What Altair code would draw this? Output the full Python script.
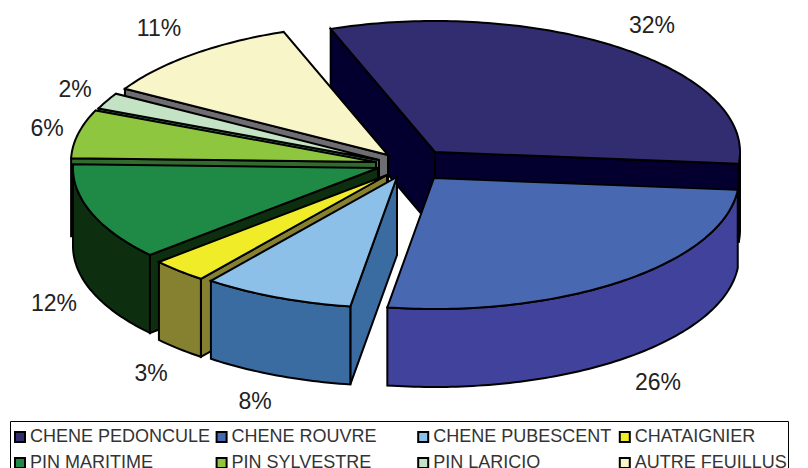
import math
import altair as alt

# Data
names = ["CHENE PEDONCULE", "CHENE ROUVRE", "CHENE PUBESCENT", "CHATAIGNIER",
         "PIN MARITIME", "PIN SYLVESTRE", "PIN LARICIO", "AUTRE FEUILLUS"]
percents = [32, 26, 8, 3, 12, 6, 2, 11]

# Styling
top_colors = ["#322c70", "#4869b1", "#8cc0e8", "#f0ec28", "#1f8a45", "#8fc63f", "#c4e3c4", "#f8f5c8"]
side_colors = ["#03002f", "#41429b", "#3a6ca2", "#858130", "#0e2f0f", "#336b2e", "#3b8a60", "#6e6e72"]

# Layout: exploded centre of each slice, and where its label sits (page pixels)
centre_x = [435, 434, 397, 387, 378, 376, 379, 388]
centre_y = [152, 178, 177, 175, 168, 162, 160, 155]
label_x = [652, 658, 255, 151, 54, 47, 75, 159]
label_y = [26, 383, 402, 374, 304, 129, 90, 29]
draw_order = [0, 7, 6, 5, 4, 3, 2, 1]
RX, RY, DEPTH, START, MARGIN = 305, 131, 78, 110, 8


def pt(cx, cy, t, dy=0):
    a = math.radians(t)
    return [cx + RX * math.cos(a) - MARGIN, cy - RY * math.sin(a) + dy - MARGIN]


def feature(ring, key):
    return {"type": "Feature", "properties": {"key": key},
            "geometry": {"type": "Polygon", "coordinates": [ring + [ring[0]]]}}


bounds = []
angle = START
for p in percents:
    bounds.append((angle, angle - p * 3.6))
    angle -= p * 3.6

features = []
for i in draw_order:
    cx, cy = centre_x[i], centre_y[i]
    t0, t1 = bounds[i]
    side = names[i] + " side"
    apex = [cx - MARGIN, cy - MARGIN]
    apex_low = [apex[0], apex[1] + DEPTH]
    # Cut faces: only those that face the viewer
    for t, visible in ((t0, math.cos(math.radians(t0)) < 0), (t1, math.cos(math.radians(t1)) > 0)):
        if visible:
            features.append(feature([apex, pt(cx, cy, t), pt(cx, cy, t, DEPTH), apex_low], side))
    # Outer rim: only the front half of the ellipse shows
    for k in range(-1, 1):
        lo, hi = max(t1, -180 + 360 * k), min(t0, 360 * k)
        if hi > lo:
            steps = max(2, int(hi - lo))
            ts = [hi - (hi - lo) * s / steps for s in range(steps + 1)]
            ring = [pt(cx, cy, t) for t in ts] + [pt(cx, cy, t, DEPTH) for t in reversed(ts)]
            features.append(feature(ring, side))
    steps = max(2, int(t0 - t1))
    ring = [apex] + [pt(cx, cy, t0 - (t0 - t1) * s / steps) for s in range(steps + 1)]
    features.append(feature(ring, names[i]))

domain = names + [n + " side" for n in names]
colour_range = top_colors + side_colors

shapes = alt.Chart(alt.InlineData(values=features)).mark_geoshape(
    stroke="black", strokeWidth=2
).encode(
    fill=alt.Fill(
        "properties.key:N",
        scale=alt.Scale(domain=domain, range=colour_range),
        legend=alt.Legend(
            values=names, title=" ", titleFontSize=1, titlePadding=5,
            orient="none", legendX=2, legendY=413,
            direction="horizontal", columns=4, gridAlign="all",
            columnPadding=1.6, rowPadding=8, padding=1,
            strokeColor="black",
            symbolType="square", symbolSize=100, symbolStrokeColor="black",
            symbolStrokeWidth=2, symbolOpacity=1, symbolOffset=0,
            labelFont="Liberation Sans", labelFontSize=18, labelColor="#333333",
            labelLimit=300, labelOffset=1,
        ),
    )
).project(type="identity", scale=1, translate=[0, 0])

labels = [{"text": f"{p}%", "x": x - MARGIN, "y": y - MARGIN}
          for p, x, y in zip(percents, label_x, label_y)]
text = alt.Chart(alt.Data(values=labels)).mark_text(
    font="Liberation Sans", fontSize=23, color="#222222", align="center", baseline="middle"
).encode(
    longitude="x:Q", latitude="y:Q", text="text:N"
).project(type="identity", scale=1, translate=[0, 0])

chart = alt.layer(shapes, text).properties(
    width=792, height=460, padding=0, autosize=alt.AutoSizeParams(type="none")
).configure_view(stroke=None).configure(background="white")

chart.save("out.html", embed_options={"renderer": "svg", "actions": False})
